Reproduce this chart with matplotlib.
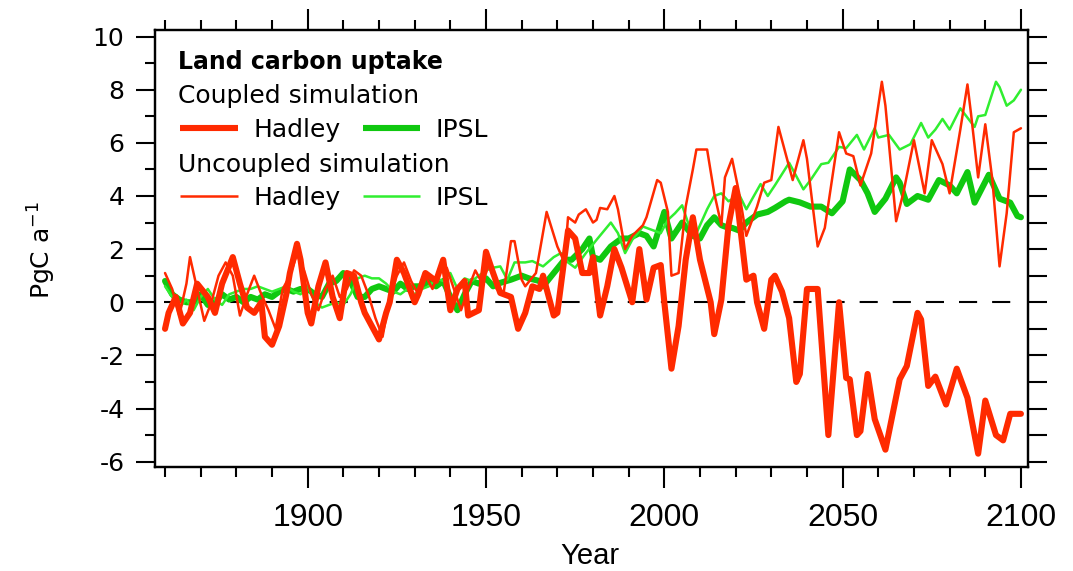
import numpy as np
import matplotlib
matplotlib.use("Agg")
import matplotlib.pyplot as plt

# Land carbon uptake, PgC per year
# coupled Hadley run (thick red)
had_cpl_yr = [1860, 1861, 1863, 1865, 1867, 1869, 1872, 1874, 1876, 1879, 1881, 1883, 1885,
              1887, 1888, 1890, 1892, 1894, 1895, 1897, 1898, 1900, 1901, 1903, 1905, 1907,
              1909, 1911, 1913, 1915, 1916, 1918, 1920, 1922, 1923, 1925, 1927, 1930, 1931,
              1933, 1936, 1938, 1940, 1942, 1944, 1945, 1948, 1950, 1952, 1954, 1957, 1959,
              1961, 1963, 1965, 1966, 1969, 1970, 1973, 1975, 1977, 1979, 1980, 1982, 1984,
              1986, 1988, 1991, 1993, 1995, 1997, 1999, 2000, 2002, 2004, 2006, 2008, 2010,
              2013, 2014, 2016, 2018, 2020, 2022, 2023, 2025, 2026, 2028, 2030, 2031, 2033,
              2035, 2037, 2038, 2040, 2043, 2046, 2049, 2051, 2052, 2054, 2055, 2057, 2059,
              2062, 2066, 2068, 2071, 2072, 2074, 2076, 2079, 2082, 2085, 2088, 2090, 2093,
              2095, 2097, 2100]
had_cpl = [-1.0, -0.4, 0.2, -0.8, -0.4, 0.7, 0.2, -0.4, 0.7, 1.7, 0.7, -0.2, -0.4,
           0.0, -1.3, -1.6, -0.9, 0.3, 1.1, 2.2, 1.6, -0.4, -0.8, 0.6, 1.5, 0.2,
           -0.6, 1.1, 1.0, 0.0, -0.4, -0.9, -1.4, -0.4, 0.0, 1.6, 1.1, 0.0, 0.3,
           1.1, 0.8, 1.6, -0.3, 0.5, 0.8, -0.5, -0.3, 1.9, 1.1, 0.35, 0.2, -1.0,
           -0.4, 0.6, 0.5, 1.0, -0.5, -0.4, 2.7, 2.4, 1.1, 1.1, 1.7, -0.5, 0.6,
           2.0, 1.3, 0.0, 2.0, 0.1, 1.3, 1.4, 0.0, -2.5, -0.9, 1.6, 3.2, 1.6,
           0.0, -1.2, 0.1, 2.9, 4.3, 2.0, 0.85, 1.0, 0.0, -1.0, 0.85, 1.0, 0.4,
           -0.6, -3.0, -2.7, 0.5, 0.5, -5.0, 0.0, -2.85, -2.9, -5.0, -4.85, -2.7, -4.4,
           -5.55, -2.9, -2.4, -0.4, -0.65, -3.15, -2.8, -3.85, -2.5, -3.6, -5.7, -3.7, -5.0,
           -5.2, -4.2, -4.2]

# uncoupled Hadley run (thin red)
had_unc_yr = [1860, 1861, 1862, 1864, 1866, 1867, 1869, 1871, 1873, 1875, 1877, 1879, 1881,
              1883, 1885, 1887, 1889, 1891, 1893, 1895, 1897, 1899, 1901, 1903, 1905, 1907,
              1909, 1911, 1913, 1915, 1917, 1919, 1921, 1923, 1925, 1927, 1929, 1931, 1933,
              1935, 1937, 1939, 1941, 1943, 1945, 1947, 1949, 1951, 1953, 1955, 1957, 1958,
              1960, 1961, 1964, 1967, 1970, 1972, 1973, 1975, 1976, 1978, 1980, 1981, 1982,
              1984, 1986, 1987, 1989, 1991, 1994, 1995, 1998, 1999, 2001, 2002, 2004, 2006,
              2008, 2009, 2012, 2014, 2016, 2017, 2019, 2021, 2023, 2026, 2028, 2030, 2032,
              2034, 2036, 2039, 2040, 2043, 2045, 2049, 2051, 2053, 2055, 2058, 2061, 2062,
              2065, 2067, 2070, 2073, 2075, 2078, 2080, 2083, 2085, 2086, 2088, 2090, 2092,
              2094, 2096, 2098, 2100]
had_unc = [1.1, 0.8, 0.5, -0.5, 0.7, 1.7, 0.5, -0.7, 0.0, 1.0, 1.5, 1.0, -0.5,
           0.3, 1.0, 0.3, -0.3, -1.0, 0.5, 1.0, 1.8, 1.2, 0.3, -0.3, 0.5, 1.0,
           0.2, 0.5, 1.2, 1.0, 0.3, -0.6, -1.3, 0.2, 1.0, 1.5, 0.8, 0.3, 1.0,
           0.5, 1.2, 1.3, 0.5, -0.3, 0.5, 1.2, 0.7, 1.5, 0.5, 0.4, 2.3, 2.3,
           0.85, 0.6, 1.1, 3.4, 2.1, 1.5, 3.2, 3.0, 3.3, 3.5, 3.0, 3.1, 3.55,
           3.5, 4.0, 3.5, 2.0, 2.5, 2.9, 3.2, 4.6, 4.5, 3.4, 1.0, 1.1, 3.6,
           5.0, 5.75, 5.75, 4.1, 2.9, 4.7, 5.4, 4.1, 2.5, 3.6, 4.5, 4.6, 6.6,
           5.6, 4.6, 6.1, 5.4, 2.1, 2.8, 6.4, 5.6, 5.5, 4.4, 5.6, 8.3, 7.4,
           3.05, 4.1, 6.1, 4.1, 6.1, 5.2, 4.1, 6.5, 8.2, 7.1, 4.7, 6.7, 4.6,
           1.35, 3.35, 6.4, 6.55]

# coupled IPSL run (thick green)
ipsl_cpl_yr = [1860, 1862, 1864, 1866, 1868, 1870, 1872, 1874, 1876, 1878, 1880, 1882, 1884,
               1886, 1888, 1890, 1892, 1894, 1896, 1898, 1900, 1902, 1904, 1906, 1908, 1910,
               1912, 1914, 1916, 1918, 1920, 1922, 1924, 1926, 1928, 1930, 1932, 1934, 1936,
               1938, 1940, 1942, 1944, 1946, 1948, 1950, 1952, 1954, 1957, 1960, 1962, 1965,
               1966, 1969, 1972, 1974, 1977, 1979, 1980, 1982, 1985, 1988, 1990, 1993, 1995,
               1997, 2000, 2002, 2003, 2005, 2008, 2010, 2012, 2014, 2016, 2018, 2019, 2021,
               2023, 2026, 2029, 2031, 2034, 2035, 2038, 2041, 2044, 2047, 2050, 2052, 2055,
               2057, 2059, 2062, 2065, 2066, 2068, 2071, 2074, 2077, 2080, 2082, 2085, 2087,
               2091, 2094, 2097, 2099, 2100]
ipsl_cpl = [0.8, 0.3, 0.1, 0.0, 0.0, 0.3, -0.1, 0.0, 0.3, 0.1, 0.2, 0.0, 0.2,
            0.1, 0.3, 0.2, 0.4, 0.5, 0.4, 0.5, 0.5, 0.3, 0.2, 0.7, 0.8, 1.1,
            0.8, 0.2, 0.2, 0.5, 0.6, 0.5, 0.4, 0.7, 0.5, 0.6, 0.6, 0.8, 0.6,
            0.8, 0.2, -0.3, 0.3, 0.8, 0.7, 0.9, 0.6, 0.73, 0.85, 1.0, 0.9, 0.8,
            0.6, 1.1, 1.6, 1.6, 2.0, 2.4, 1.7, 1.6, 2.1, 2.4, 2.4, 2.6, 2.5,
            2.1, 3.4, 2.4, 2.6, 3.0, 2.5, 2.4, 2.9, 3.2, 2.9, 2.8, 2.8, 2.7,
            3.0, 3.3, 3.4, 3.55, 3.8, 3.86, 3.76, 3.6, 3.6, 3.35, 3.8, 5.0, 4.6,
            4.1, 3.4, 3.9, 4.7, 4.5, 3.7, 4.0, 3.86, 4.6, 4.4, 4.1, 4.9, 3.75,
            4.8, 3.9, 3.75, 3.25, 3.2]

# uncoupled IPSL run (thin green)
ipsl_unc_yr = [1860, 1862, 1864, 1866, 1868, 1870, 1872, 1874, 1876, 1878, 1880, 1882, 1884,
               1886, 1888, 1890, 1892, 1894, 1896, 1898, 1900, 1902, 1904, 1906, 1908, 1910,
               1912, 1914, 1916, 1918, 1920, 1922, 1924, 1926, 1928, 1930, 1932, 1934, 1936,
               1938, 1940, 1942, 1944, 1946, 1948, 1950, 1952, 1954, 1956, 1958, 1961, 1963,
               1966, 1969, 1971, 1973, 1975, 1978, 1981, 1985, 1987, 1989, 1991, 1994, 1996,
               1999, 2001, 2003, 2005, 2007, 2009, 2012, 2014, 2016, 2018, 2021, 2023, 2027,
               2029, 2031, 2035, 2037, 2039, 2041, 2044, 2046, 2049, 2051, 2054, 2056, 2059,
               2060, 2063, 2066, 2069, 2072, 2074, 2076, 2078, 2080, 2083, 2087, 2088, 2090,
               2093, 2094, 2096, 2098, 2100]
ipsl_unc = [0.6, 0.2, -0.2, 0.1, -0.3, 0.2, 0.5, 0.1, -0.1, 0.3, 0.4, 0.5, 0.5,
            0.6, 0.5, 0.4, 0.5, 0.6, 0.4, 0.3, 0.6, 0.0, -0.2, -0.1, 0.0, -0.1,
            0.3, 0.9, 1.0, 0.9, 0.9, 0.7, 0.4, 0.3, 0.5, 0.3, 0.5, 0.6, 0.9,
            0.8, 1.1, 0.5, 0.9, 0.8, 1.0, 1.2, 1.3, 1.35, 0.85, 1.5, 1.5, 1.55,
            1.35, 1.7, 1.85, 1.5, 1.3, 1.85, 2.35, 3.0, 2.6, 1.85, 2.35, 2.85, 2.75,
            2.6, 3.1, 3.35, 3.65, 2.85, 2.6, 3.5, 4.0, 4.1, 3.8, 4.05, 3.5, 4.45,
            4.0, 4.4, 5.25, 4.75, 4.25, 4.6, 5.2, 5.25, 5.85, 5.8, 6.3, 5.75, 6.55,
            6.2, 6.3, 5.75, 5.95, 6.75, 6.2, 6.5, 6.9, 6.5, 7.3, 6.6, 7.0, 7.05,
            8.3, 8.1, 7.4, 7.6, 8.0]

RED = '#ff2a00'
GREEN_THICK = '#10c810'
GREEN_THIN = '#30ee30'
LW_THICK = 4.4
LW_THIN = 1.8

plt.rcParams['font.family'] = ['DejaVu Sans']
plt.rcParams['axes.linewidth'] = 1.6
plt.rcParams['axes.unicode_minus'] = False

fig = plt.figure(figsize=(10.73, 5.71), dpi=100)
ax = fig.add_axes([0.1445, 0.1827, 0.8133, 0.7648])

kw = dict(solid_joinstyle='round', solid_capstyle='round')
ax.plot(ipsl_cpl_yr, ipsl_cpl, color=GREEN_THICK, lw=LW_THICK, **kw)
ax.plot(ipsl_unc_yr, ipsl_unc, color=GREEN_THIN, lw=LW_THIN, **kw)
ax.plot(had_unc_yr, had_unc, color=RED, lw=LW_THIN, **kw)
ax.plot(had_cpl_yr, had_cpl, color=RED, lw=LW_THICK, **kw)
ax.axhline(0, xmin=0.01, xmax=0.99, color='black', lw=1.5, dashes=(8.7, 7.2), zorder=1)

ax.set_xlim(1857.2, 2101.9)
ax.set_ylim(-6.19, 10.25)

# x axis: labels every 50 years, ticks every 10, top and bottom
ax.set_xticks([1900, 1950, 2000, 2050, 2100])
ax.set_xticks(np.arange(1860, 2101, 10), minor=True)
ax.tick_params(axis='x', which='both', direction='out', top=True, bottom=True, width=1.5)
ax.tick_params(axis='x', which='major', length=15, pad=11, labelsize=23)
ax.tick_params(axis='x', which='minor', length=7)
for lab in ax.get_xticklabels():
    lab.set_family(['Liberation Sans', 'DejaVu Sans'])

# left y axis: labels every 2, minor every 1
ax.set_yticks(np.arange(-6, 11, 2))
ax.set_yticks(np.arange(-5, 10, 2), minor=True)
ax.tick_params(axis='y', which='both', direction='out', left=True, right=False, width=1.5)
ax.tick_params(axis='y', which='major', length=14, pad=8, labelsize=18)
ax.tick_params(axis='y', which='minor', length=7)

# right y axis: equal ticks every 1, no labels
ax2 = ax.twinx()
ax2.set_ylim(ax.get_ylim())
ax2.set_yticks(np.arange(-6, 11, 1))
ax2.tick_params(axis='y', direction='out', length=14, width=1.5, labelright=False)

# key in the upper left corner
tx = ax.transAxes
ax.text(0.026, 0.9095, 'Land carbon uptake', transform=tx, fontsize=17,
        fontweight='bold', va='baseline')
ax.text(0.026, 0.8333, 'Coupled simulation', transform=tx, fontsize=18, va='baseline')
ax.text(0.026, 0.6752, 'Uncoupled simulation', transform=tx, fontsize=18, va='baseline')
rows = [(0.776, LW_THICK, RED, GREEN_THICK), (0.619, LW_THIN, RED, GREEN_THIN)]
for y, lw, c1, c2 in rows:
    ax.plot([0.0286, 0.0951], [y, y], color=c1, lw=lw, transform=tx, solid_capstyle='butt')
    ax.text(0.1123, y - 0.0205, 'Hadley', transform=tx, fontsize=18, va='baseline')
    ax.plot([0.2383, 0.3037], [y, y], color=c2, lw=lw, transform=tx, solid_capstyle='butt')
    ax.text(0.3208, y - 0.0205, 'IPSL', transform=tx, fontsize=18, va='baseline')

fig.text(42 / 1073, 1 - 250 / 571, 'PgC a$^{\\mathregular{-1}}$', rotation=90,
         ha='center', va='center', fontsize=18)
fig.text(590 / 1073, 1 - 556 / 571, 'Year', ha='center', va='center', fontsize=21,
         family=['Liberation Sans', 'DejaVu Sans'])

fig.savefig('out.png', dpi=100)
